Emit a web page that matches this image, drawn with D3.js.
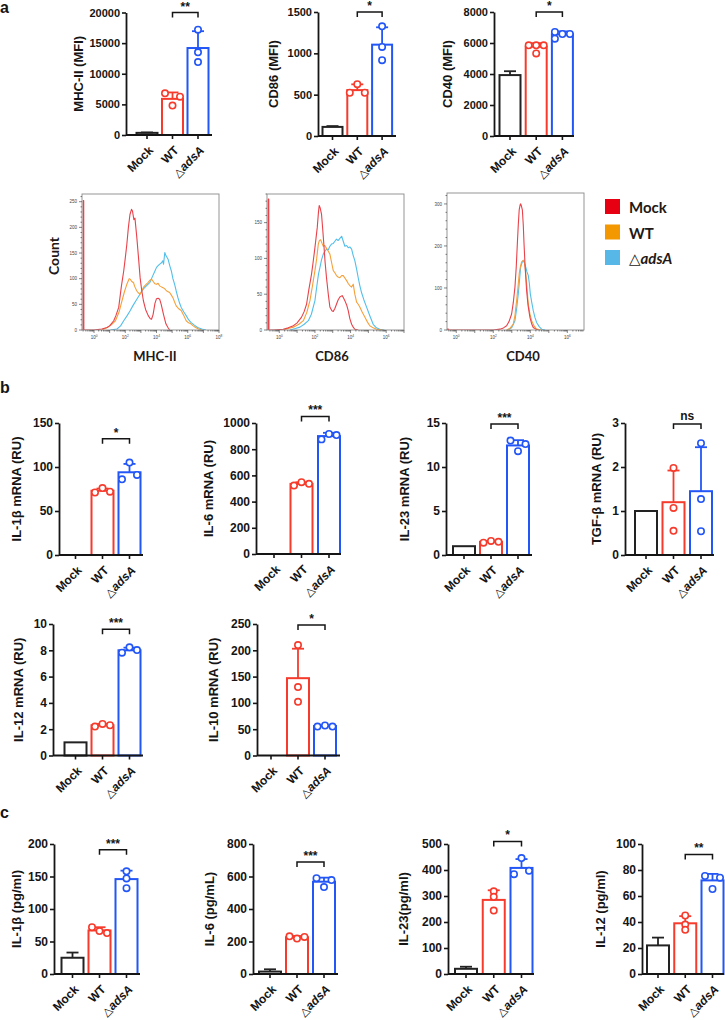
<!DOCTYPE html>
<html><head><meta charset="utf-8">
<script src="https://cdn.jsdelivr.net/npm/d3@7"></script>
<style>body{margin:0;background:#fff} svg{display:block}</style>
</head><body>
<svg id="fig" width="725" height="1020"></svg>
<script>
// ---------------- DATA ----------------
const groups = ["Mock", "WT", "adsA"];

// panel a : MFI
const mhcTicks = [0, 5000, 10000, 15000, 20000];
const mhcMean = [350, 5900, 14200];
const mhcSD = [70, 1050, 2750];
const mhcPts = [[], [6800, 4800, 6250], [17200, 13500, 11900]];

const cd86Ticks = [0, 500, 1000, 1500];
const cd86Mean = [110, 555, 1105];
const cd86SD = [10, 70, 210];
const cd86Pts = [[], [523, 627, 523], [1327, 1078, 917]];

const cd40Ticks = [0, 2000, 4000, 6000, 8000];
const cd40Mean = [3930, 5760, 6560];
const cd40SD = [250, 230, 190];
const cd40Pts = [[], [5850, 5330, 5850, 5850], [6710, 6580, 6580, 6280]];

// panel b : mRNA (RU)
const il1bTicks = [0, 50, 100, 150];
const il1bMean = [0, 73, 94];
const il1bSD = [0, 2.5, 9.5];
const il1bPts = [[], [71, 76, 72], [86, 105, 91]];

const il6Ticks = [0, 200, 400, 600, 800, 1000];
const il6Mean = [0, 535, 900];
const il6SD = [0, 13, 25];
const il6Pts = [[], [522, 548, 536], [875, 916, 908]];

const il23Ticks = [0, 5, 10, 15];
const il23Mean = [1, 1.5, 12.45];
const il23SD = [0, 0.1, 0.6];
const il23Pts = [[], [1.4, 1.6, 1.5], [13.0, 11.8, 12.6]];

const tgfTicks = [0, 1, 2, 3];
const tgfMean = [1, 1.2, 1.45];
const tgfSD = [0, 0.72, 1.0];
const tgfPts = [[], [1.98, 1.07, 0.55], [2.54, 1.27, 0.54]];

const il12Ticks = [0, 2, 4, 6, 8, 10];
const il12Mean = [1, 2.3, 8.0];
const il12SD = [0, 0.1, 0.2];
const il12Pts = [[], [2.2, 2.4, 2.3], [7.82, 8.23, 8.02]];

const il10Ticks = [0, 50, 100, 150, 200, 250];
const il10Mean = [0, 147, 56];
const il10SD = [0, 56, 1];
const il10Pts = [[], [210, 130, 102], [55, 57, 55]];

// panel c : protein (pg/ml)
const p1bTicks = [0, 50, 100, 150, 200];
const p1bMean = [25, 67, 146];
const p1bSD = [8, 5, 13];
const p1bPts = [[], [72, 66, 63], [158, 147, 132]];

const p6Ticks = [0, 200, 400, 600, 800];
const p6Mean = [15, 226, 568];
const p6SD = [14, 8, 25];
const p6Pts = [[], [232, 218, 228], [590, 535, 578]];

const p23Ticks = [0, 100, 200, 300, 400, 500];
const p23Mean = [20, 285, 408];
const p23SD = [8, 37, 34];
const p23Pts = [[], [318, 297, 244], [384, 446, 397]];

const p12Ticks = [0, 20, 40, 60, 80, 100];
const p12Mean = [22, 39, 72];
const p12SD = [6, 5.5, 5];
const p12Pts = [[], [45, 38, 34], [75.4, 65.4, 74.1]];

// significance (level in data units, label)
const sigLevels = [20000, 1500, 8000, 132, 1050, 14.9, 2.98, 9.6, 248, 191, 690, 510, 92];
const sigLabels = ["**", "*", "*", "*", "***", "***", "ns", "***", "*", "***", "***", "*", "**"];

const titles = ["MHC-II (MFI)", "CD86 (MFI)", "CD40 (MFI)",
  "IL-1β mRNA (RU)", "IL-6 mRNA (RU)", "IL-23 mRNA (RU)", "TGF-β mRNA (RU)",
  "IL-12 mRNA (RU)", "IL-10 mRNA (RU)",
  "IL-1β (pg/ml)", "IL-6 (pg/mL)", "IL-23(pg/ml)", "IL-12 (pg/ml)"];

// flow histograms: [log10 fluorescence, count]
const mhcMockHist = [[-0.77,0],[-0.70,0],[-0.69,252],[-0.66,252],[-0.65,0],[0,0],[0.5,2],[0.84,5],[1.0,8],[1.26,18],[1.4,28],[1.58,44],[1.75,85],[1.9,115],[2.0,140],[2.1,167],[2.2,200],[2.3,225],[2.4,235],[2.46,232],[2.55,215],[2.62,218],[2.74,180],[2.85,140],[2.95,102],[3.05,78],[3.16,57],[3.3,40],[3.47,28],[3.6,22],[3.68,21],[3.78,30],[3.9,52],[4.0,61],[4.1,62],[4.2,60],[4.3,50],[4.45,30],[4.6,12],[4.75,4],[4.84,0]];
const mhcWTHist = [[0.5,0],[0.84,5],[1.1,10],[1.37,18],[1.6,35],[1.79,57],[1.95,75],[2.1,89],[2.25,100],[2.32,99],[2.4,95],[2.53,92],[2.6,85],[2.74,76],[2.85,72],[2.95,70],[3.05,76],[3.16,83],[3.3,88],[3.47,93],[3.58,97],[3.68,99],[3.8,94],[3.9,90],[4.0,89],[4.1,91],[4.2,86],[4.32,84],[4.45,82],[4.53,80],[4.65,76],[4.84,73],[4.95,68],[5.05,63],[5.15,55],[5.26,47],[5.4,42],[5.58,38],[5.75,28],[5.9,18],[6.05,14],[6.2,12],[6.35,8],[6.5,5],[6.7,2],[6.9,0]];
const mhcAdsHist = [[1.05,0],[1.47,2],[1.7,8],[1.9,18],[2.1,27],[2.32,38],[2.5,48],[2.74,60],[2.95,70],[3.16,80],[3.35,86],[3.58,93],[3.75,105],[3.9,115],[4.0,122],[4.15,127],[4.32,131],[4.4,135],[4.45,128],[4.53,151],[4.6,145],[4.74,138],[4.85,125],[4.95,115],[5.05,100],[5.16,89],[5.26,76],[5.37,63],[5.48,52],[5.58,44],[5.75,35],[5.9,28],[6.05,20],[6.2,15],[6.4,10],[6.63,5],[6.9,2],[7.16,0]];

const cd86MockHist = [[-0.69,0],[-0.63,0],[-0.62,183],[-0.59,183],[-0.58,0],[-0.34,0],[0.22,1],[0.5,3],[0.79,6],[1.0,10],[1.25,18],[1.4,26],[1.53,36],[1.65,55],[1.81,78],[1.9,95],[2.0,115],[2.06,128],[2.13,143],[2.2,165],[2.24,174],[2.3,170],[2.37,162],[2.44,140],[2.5,120],[2.57,95],[2.65,73],[2.75,50],[2.84,32],[2.95,27],[3.03,26],[3.12,30],[3.21,36],[3.3,42],[3.4,46],[3.53,48],[3.6,45],[3.68,41],[3.78,35],[3.87,27],[3.96,16],[4.06,8],[4.15,4],[4.24,1],[4.43,0]];
const cd86WTHist = [[0.22,0],[0.5,2],[0.79,4],[1.1,8],[1.35,13],[1.55,25],[1.72,41],[1.85,60],[2.0,83],[2.1,100],[2.19,120],[2.25,125],[2.32,126],[2.4,121],[2.47,117],[2.55,118],[2.65,114],[2.75,110],[2.84,106],[2.93,95],[3.03,83],[3.12,80],[3.21,76],[3.3,74],[3.4,73],[3.5,76],[3.59,76],[3.7,72],[3.78,69],[3.87,65],[3.96,62],[4.06,60],[4.15,64],[4.24,50],[4.34,39],[4.43,36],[4.52,32],[4.65,25],[4.8,18],[4.95,11],[5.08,6],[5.27,3],[5.46,1],[5.8,0]];
const cd86AdsHist = [[0.6,0],[0.9,2],[1.16,4],[1.4,8],[1.63,13],[1.8,22],[2.0,41],[2.1,60],[2.2,78],[2.28,87],[2.37,98],[2.47,106],[2.56,110],[2.65,113],[2.75,112],[2.84,117],[2.93,120],[3.03,121],[3.12,124],[3.21,127],[3.3,125],[3.4,128],[3.5,131],[3.59,124],[3.68,117],[3.78,118],[3.87,115],[3.96,116],[4.06,113],[4.15,104],[4.24,97],[4.34,85],[4.43,73],[4.52,62],[4.62,52],[4.75,42],[4.9,32],[5.08,20],[5.27,8],[5.45,3],[5.64,1],[5.9,0]];

const cd40MockHist = [[-0.5,0],[-0.45,3],[-0.4,0],[2.0,0],[2.36,2],[2.55,5],[2.72,10],[2.85,20],[2.99,38],[3.08,65],[3.17,102],[3.24,150],[3.3,206],[3.35,250],[3.4,286],[3.45,298],[3.48,300],[3.52,295],[3.57,286],[3.62,250],[3.66,206],[3.72,150],[3.8,94],[3.88,58],[3.98,30],[4.07,15],[4.16,6],[4.3,2],[4.43,0]];
const cd40WTHist = [[2.72,0],[2.9,4],[3.08,14],[3.17,35],[3.26,70],[3.33,100],[3.4,134],[3.47,152],[3.53,162],[3.6,165],[3.66,166],[3.72,150],[3.77,126],[3.83,95],[3.89,62],[3.98,38],[4.07,22],[4.2,10],[4.34,2],[4.6,0]];
const cd40AdsHist = [[2.81,0],[3.0,6],[3.17,22],[3.26,50],[3.35,86],[3.42,120],[3.48,150],[3.55,160],[3.62,166],[3.68,160],[3.75,150],[3.82,138],[3.89,130],[3.95,110],[4.0,86],[4.08,65],[4.16,46],[4.25,30],[4.34,18],[4.48,8],[4.61,2],[4.8,0]];

const histYTicks1 = [0, 50, 100, 150, 200, 250];
const histYTicks2 = [0, 50, 100, 150];
const histYTicks3 = [0, 100, 200, 300];
const histXLabels = ["MHC-II", "CD86", "CD40"];
const legendLabels = ["Mock", "WT", "adsA"];

// ---------------- LAYOUT / STYLE ----------------
const FONT = "'Liberation Sans', Arial, Helvetica, sans-serif";
const HFONT = "Lato, 'Open Sans', sans-serif";
const barColors = ["#222222", "#f63b2c", "#2356f6"];
const histColors = ["#e8424a", "#f6a03a", "#52bfea"];
const legendColors = ["#e60012", "#f39800", "#57b8e8"];
const ink = "#151515";

const layouts = [
  {x0:126, y0:135, yTop:12.5, c1:147, step:25.5, bw:21, xEnd:212, titleX:78, tf:11},
  {x0:318, y0:136, yTop:12, c1:332.5, step:24.8, bw:20, xEnd:396, titleX:273, tf:11},
  {x0:494, y0:136, yTop:12, c1:510, step:26.2, bw:21, xEnd:574, titleX:447, tf:11},
  {x0:59, y0:555, yTop:423, c1:75.5, step:27, bw:22, xEnd:143, titleX:16, tf:12},
  {x0:256, y0:554, yTop:423, c1:274, step:27.5, bw:22, xEnd:341, titleX:208, tf:12},
  {x0:446, y0:555, yTop:423, c1:464, step:27, bw:22, xEnd:532, titleX:404, tf:12},
  {x0:625, y0:555, yTop:423, c1:646, step:27.5, bw:22, xEnd:714, titleX:596, tf:12},
  {x0:53, y0:755.5, yTop:624, c1:75.5, step:27, bw:22, xEnd:143, titleX:18, tf:12},
  {x0:257, y0:755.5, yTop:624, c1:271, step:27, bw:22, xEnd:340, titleX:213, tf:12},
  {x0:54, y0:974, yTop:844, c1:72.5, step:27, bw:22, xEnd:140, titleX:16, tf:12},
  {x0:253, y0:974, yTop:844, c1:270, step:27, bw:22, xEnd:338, titleX:209, tf:12},
  {x0:448, y0:974, yTop:844, c1:466, step:27.75, bw:22, xEnd:534, titleX:403, tf:12},
  {x0:642, y0:974, yTop:844, c1:658, step:27.25, bw:22, xEnd:724, titleX:600, tf:12}
];

const chartData = [
  [mhcTicks, mhcMean, mhcSD, mhcPts], [cd86Ticks, cd86Mean, cd86SD, cd86Pts], [cd40Ticks, cd40Mean, cd40SD, cd40Pts],
  [il1bTicks, il1bMean, il1bSD, il1bPts], [il6Ticks, il6Mean, il6SD, il6Pts], [il23Ticks, il23Mean, il23SD, il23Pts],
  [tgfTicks, tgfMean, tgfSD, tgfPts], [il12Ticks, il12Mean, il12SD, il12Pts], [il10Ticks, il10Mean, il10SD, il10Pts],
  [p1bTicks, p1bMean, p1bSD, p1bPts], [p6Ticks, p6Mean, p6SD, p6Pts], [p23Ticks, p23Mean, p23SD, p23Pts],
  [p12Ticks, p12Mean, p12SD, p12Pts]
];

const svg = d3.select("#fig");

// spread overlapping points (simple beeswarm by clusters)
function spread(vals, yS, thr, s) {
  const n = vals.length, ys = vals.map(v => yS(v));
  const order = d3.range(n).sort((a, b) => ys[a] - ys[b]);
  const comp = new Array(n); let c = 0;
  order.forEach((k, i) => { if (i > 0 && ys[k] - ys[order[i - 1]] >= thr) c++; comp[k] = c; });
  const off = new Array(n).fill(0);
  for (let cc = 0; cc <= c; cc++) {
    const mem = d3.range(n).filter(k => comp[k] === cc);
    if (mem.length === 2) { off[mem[0]] = -s; off[mem[1]] = s; }
    else if (mem.length >= 3) { const cyc = [-s, 0, s]; mem.forEach((k, j) => off[k] = cyc[j % 3]); }
  }
  return off;
}

function groupLabel(sel, name) {
  if (name === "adsA") {
    sel.append("tspan").attr("font-weight", "normal").attr("font-family", "'DejaVu Sans', sans-serif").attr("font-size", "0.95em").text("△");
    sel.append("tspan").attr("font-style", "italic").text("adsA");
  } else sel.text(name);
}

function barChart(i) {
  const L = layouts[i];
  const [ticks, mean, sd, pts] = chartData[i];
  const g = svg.append("g");
  const y = d3.scaleLinear().domain([0, ticks[ticks.length - 1]]).range([L.y0, L.yTop]);
  const p = 1 - L.bw / L.step;
  const x = d3.scaleBand().domain(groups).range([L.c1 - L.step / 2, L.c1 + 2.5 * L.step])
    .paddingInner(p).paddingOuter(p / 2);
  const cx = k => x(k) + x.bandwidth() / 2;

  // bars
  groups.forEach((k, j) => {
    const col = barColors[j];
    const top = y(mean[j]);
    g.append("rect").attr("x", x(k)).attr("y", top).attr("width", x.bandwidth())
      .attr("height", Math.max(0, L.y0 - top)).attr("fill", "#fff").attr("stroke", col).attr("stroke-width", 2);
    if (sd[j] > 0) {
      const et = y(mean[j] + sd[j]);
      g.append("line").attr("x1", cx(k)).attr("x2", cx(k)).attr("y1", top).attr("y2", et)
        .attr("stroke", col).attr("stroke-width", 1.8);
      g.append("line").attr("x1", cx(k) - 6).attr("x2", cx(k) + 6).attr("y1", et).attr("y2", et)
        .attr("stroke", col).attr("stroke-width", 1.8);
    }
  });
  // points
  groups.forEach((k, j) => {
    const off = spread(pts[j], y, 5, 7.5);
    g.selectAll(null).data(pts[j]).enter().append("circle")
      .attr("cx", (d, m) => cx(k) + off[m]).attr("cy", d => y(d)).attr("r", 3.2)
      .attr("fill", "#fff").attr("stroke", barColors[j]).attr("stroke-width", 1.6);
  });

  // axes
  const ya = g.append("g").attr("transform", `translate(${L.x0},0)`)
    .call(d3.axisLeft(y).tickValues(ticks).tickFormat(d => String(d)).tickSize(4).tickPadding(2).tickSizeOuter(0));
  ya.select(".domain").attr("stroke", ink).attr("stroke-width", 1.8);
  ya.selectAll(".tick line").attr("stroke", ink).attr("stroke-width", 1.6);
  ya.selectAll(".tick text").attr("font-family", FONT).attr("font-weight", "bold")
    .attr("font-size", L.tf).attr("fill", ink);

  const xa = g.append("g").attr("transform", `translate(0,${L.y0})`)
    .call(d3.axisBottom(x).tickSize(4).tickFormat("").tickSizeOuter(0));
  xa.select(".domain").attr("d", `M${L.x0},0H${L.xEnd}`).attr("stroke", ink).attr("stroke-width", 1.8);
  xa.selectAll(".tick line").attr("stroke", ink).attr("stroke-width", 1.6);

  groups.forEach(k => {
    const t = g.append("text").attr("transform", `translate(${cx(k) + 7},${L.y0 + 16}) rotate(-45)`)
      .attr("text-anchor", "end").attr("font-family", FONT).attr("font-weight", "bold")
      .attr("font-size", 12).attr("fill", ink);
    groupLabel(t, k);
  });

  // title
  g.append("text").attr("transform", `translate(${L.titleX},${(L.y0 + L.yTop) / 2}) rotate(-90)`)
    .attr("dy", "0.35em").attr("text-anchor", "middle").attr("font-family", FONT)
    .attr("font-weight", "bold").attr("font-size", 13).attr("fill", ink).text(titles[i]);

  // significance
  const sy = y(sigLevels[i]);
  const xa1 = cx("WT"), xa2 = cx("adsA");
  g.append("path").attr("d", `M${xa1},${sy + 5}V${sy}H${xa2}V${sy + 5}`)
    .attr("fill", "none").attr("stroke", ink).attr("stroke-width", 1.5);
  g.append("text").attr("x", (xa1 + xa2) / 2).attr("y", sigLabels[i] === "ns" ? sy - 4 : sy - 2)
    .attr("text-anchor", "middle").attr("font-family", FONT).attr("font-weight", "bold")
    .attr("font-size", 12).attr("fill", ink).text(sigLabels[i]);
}

d3.range(layouts.length).forEach(barChart);

// ---------------- flow histograms ----------------
const histLayouts = [
  {l:82, r:219, t:194, b:330, xd:[-0.77, 8.0], ymax:265, xt:[0,2,4,6,8], yt:histYTicks1, minor:10, lx:155},
  {l:267, r:404, t:194, b:330, xd:[-0.69, 7.0], ymax:190, xt:[0,2,4,6], yt:histYTicks2, minor:10, lx:332},
  {l:447, r:584, t:193, b:330, xd:[-0.5, 6.9], ymax:326, xt:[0,2,4,6], yt:histYTicks3, minor:20, lx:523}
];
const histSeries = [
  [mhcMockHist, mhcWTHist, mhcAdsHist],
  [cd86MockHist, cd86WTHist, cd86AdsHist],
  [cd40MockHist, cd40WTHist, cd40AdsHist]
];

histLayouts.forEach((H, i) => {
  const g = svg.append("g");
  const x = d3.scaleLinear().domain(H.xd).range([H.l, H.r]);
  const y = d3.scaleLinear().domain([0, H.ymax]).range([H.b, H.t]);
  const clipId = "hc" + i;
  g.append("clipPath").attr("id", clipId).append("rect")
    .attr("x", H.l).attr("y", H.t).attr("width", H.r - H.l).attr("height", H.b - H.t);
  const line = d3.line().x(d => x(d[0])).y(d => y(d[1]));
  [2, 1, 0].forEach(j => {
    g.append("path").datum(histSeries[i][j]).attr("d", line).attr("clip-path", `url(#${clipId})`)
      .attr("fill", "none").attr("stroke", histColors[j]).attr("stroke-width", 1.1).attr("stroke-linejoin", "round");
  });
  g.append("rect").attr("x", H.l).attr("y", H.t).attr("width", H.r - H.l).attr("height", H.b - H.t)
    .attr("fill", "none").attr("stroke", "#8a8a8a").attr("stroke-width", 0.9);
  const yMinor = d3.range(0, H.ymax + 0.01, H.minor);
  g.selectAll(null).data(yMinor).enter().append("line")
    .attr("x1", H.l).attr("x2", d => H.l - (H.yt.includes(d) ? 3 : 1.5))
    .attr("y1", d => y(d)).attr("y2", d => y(d)).attr("stroke", "#333").attr("stroke-width", 0.6);
  g.selectAll(null).data(H.yt).enter().append("text")
    .attr("x", H.l - 5).attr("y", d => y(d)).attr("dy", "0.35em").attr("text-anchor", "end")
    .attr("font-family", FONT).attr("font-size", 4.5).attr("fill", "#444").text(d => d);
  const xs = [];
  for (let dd = Math.floor(H.xd[0]); dd <= Math.ceil(H.xd[1]); dd++) {
    for (let m = 1; m <= 9; m++) {
      const v = dd + Math.log10(m);
      if (v >= H.xd[0] && v <= H.xd[1]) xs.push({v, major: m === 1});
    }
  }
  g.selectAll(null).data(xs).enter().append("line")
    .attr("x1", d => x(d.v)).attr("x2", d => x(d.v)).attr("y1", H.b).attr("y2", d => H.b + (d.major ? 3 : 1.5))
    .attr("stroke", "#333").attr("stroke-width", 0.6);
  const xl = g.selectAll(null).data(H.xt).enter().append("text")
    .attr("x", d => x(d)).attr("y", H.b + 9).attr("text-anchor", "middle")
    .attr("font-family", FONT).attr("font-size", 4.5).attr("fill", "#444");
  xl.append("tspan").text("10");
  xl.append("tspan").attr("dy", -2).attr("font-size", 3.2).text(d => d);
  g.append("text").attr("x", H.lx).attr("y", 361).attr("text-anchor", "middle")
    .attr("font-family", HFONT).attr("font-weight", "bold").attr("font-size", 13).attr("fill", "#231815")
    .text(histXLabels[i]);
});
svg.append("text").attr("transform", "translate(54,256) rotate(-90)").attr("dy", "0.35em")
  .attr("text-anchor", "middle").attr("font-family", HFONT).attr("font-weight", "bold")
  .attr("font-size", 14).attr("fill", "#231815").text("Count");

// legend
const lg = svg.append("g");
legendLabels.forEach((k, j) => {
  lg.append("rect").attr("x", 605).attr("y", 199 + j * 25.5).attr("width", 15).attr("height", 15)
    .attr("fill", legendColors[j]);
  const t = lg.append("text").attr("x", 629).attr("y", 213 + j * 25.5)
    .attr("font-family", HFONT).attr("font-weight", "bold").attr("font-size", 15).attr("fill", "#231815");
  if (k === "adsA") {
    t.append("tspan").attr("font-weight", "normal").attr("font-family", "'DejaVu Sans', sans-serif").text("△");
    t.append("tspan").attr("font-style", "italic").text("adsA");
  } else t.text(k);
});

// panel letters
[["a", 13], ["b", 393], ["c", 818]].forEach(([t, yy]) => {
  svg.append("text").attr("x", 0).attr("y", yy).attr("font-family", FONT).attr("font-weight", "bold")
    .attr("font-size", 16).attr("fill", ink).text(t);
});
</script>
</body></html>
